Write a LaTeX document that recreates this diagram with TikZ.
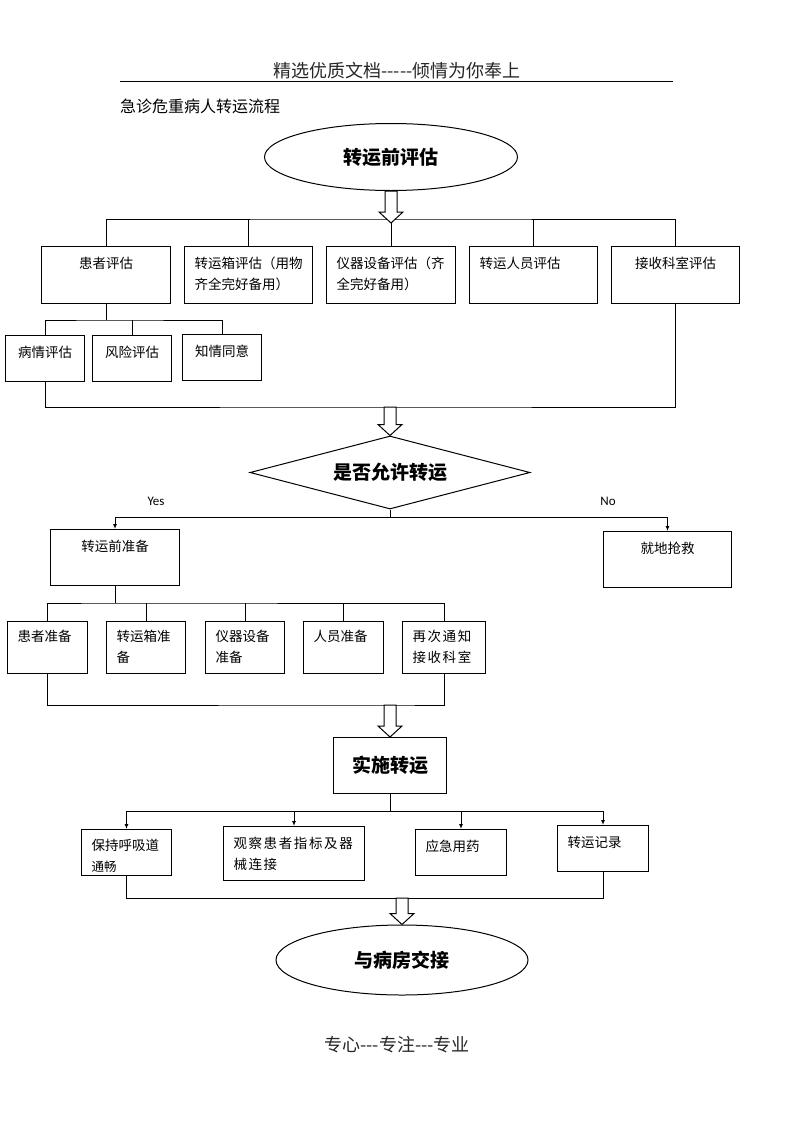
\documentclass[tikz,border=0pt]{standalone}
\usepackage{fontspec}
\newfontfamily\cjk{Noto Sans CJK SC}
\newfontfamily\cjkwide[LetterSpace=12]{Noto Sans CJK SC}
\newfontfamily\yesno{Carlito}
\usetikzlibrary{shapes}
\usetikzlibrary{positioning}
\usetikzlibrary{arrows.meta}
\usetikzlibrary{calc}
\tikzset{
    mybox/.style  = {rectangle, line width=1pt, draw=black, anchor=north west, inner xsep=10pt, inner ysep=0pt, text height=22pt, align=left, font=\cjk\fontsize{13.5}{21}\selectfont, text=black},
    myboxc/.style = {mybox, align=center},
    myboxb/.style = {rectangle, line width=1pt, draw=black, anchor=north west, inner sep=0pt, align=center, font=\cjk\bfseries\fontsize{19}{22}\selectfont, text=black},
    myell/.style  = {ellipse, line width=1pt, draw=black, inner sep=0pt, font=\cjk\bfseries\fontsize{19}{22}\selectfont, text=black},
    mydia/.style  = {diamond, aspect=3.8, line width=1pt, draw=black, inner sep=0pt, font=\cjk\bfseries\fontsize{19}{22}\selectfont, text=black},
    mytext/.style = {inner sep=0pt, font=\cjk\fontsize{16}{18}\selectfont, text=black},
    mylab/.style  = {inner sep=0pt, font=\yesno\fontsize{13}{14}\selectfont, text=black},
    edgen/.style  = {-, line width=1pt, black},
    edgea/.style  = {-{Latex[length=5pt,width=4pt]}, line width=1pt, black},
    hollow/.style = {line width=1pt, draw=black, fill=white, line join=miter}
}
\newcommand{\hollowarrow}[2]{% from #1 down to the tip at #2
    \draw[hollow] let \p1=(#1), \p2=(#2) in
        (\x2-6pt,\y1) -- (\x2+6pt,\y1) -- (\x2+6pt,\y2+11pt) -- (\x2+12pt,\y2+11pt)
        -- (\x2,\y2) -- (\x2-12pt,\y2+11pt) -- (\x2-6pt,\y2+11pt) -- cycle;
}

\begin{document}
\begin{tikzpicture}[x=1pt,y=-1pt]
\useasboundingbox (0,0) rectangle (793,1122);

% header and title
\node[mytext, anchor=base, font=\cjk\fontsize{18}{20}\selectfont, text=black!85] at (397,77) (head) {精选优质文档-----倾情为你奉上};
\draw[line width=1pt] (120,81) -- (673,81);
\node[mytext, anchor=base west] at (120,112) (title) {急诊危重病人转运流程};

\node[myell, minimum width=253pt, minimum height=67pt] at (391,157) (eval) {转运前评估};

% assessment
\node[myboxc, text width=109pt, text depth=35pt] at ( 41,246) (pgA) {患者评估};
\node[mybox,  text width=108pt, text depth=35pt] at (184,246) (pgB) {转运箱评估（用物\\齐全完好备用）};
\node[mybox,  text width=109pt, text depth=35pt] at (326,246) (pgC) {仪器设备评估（齐\\全完好备用）};
\node[mybox,  text width=108pt, text depth=35pt] at (469,246) (pgD) {转运人员评估};
\node[myboxc, text width=108pt, text depth=35pt] at (611,246) (pgE) {接收科室评估};

\node[myboxc, text width=59pt, text depth=24pt] at (  5,335) (sbA) {病情评估};
\node[myboxc, text width=59pt, text depth=24pt] at ( 92,335) (sbB) {风险评估};
\node[myboxc, text width=59pt, text depth=24pt] at (182,334) (sbC) {知情同意};

\node[mydia, minimum width=280pt, minimum height=73pt] at (390,472.5) (dec) {是否允许转运};
\node[mylab, anchor=base] at (156,505) (yes) {Yes};
\node[mylab, anchor=base] at (608,505) (no) {No};

% preparation
\node[myboxc, text width=109pt, text depth=34pt] at ( 50,529) (prep) {转运前准备};
\node[myboxc, text width=108pt, text depth=34pt] at (603,531) (rescue) {就地抢救};

\node[mybox, text width=60pt, text height=20pt, text depth=32pt] at (  7,621) (ppA) {患者准备};
\node[mybox, text width=59pt, text height=20pt, text depth=32pt] at (106,621) (ppB) {转运箱准\\备};
\node[mybox, text width=59pt, text height=20pt, text depth=32pt] at (205,621) (ppC) {仪器设备\\准备};
\node[mybox, text width=60pt, text height=20pt, text depth=32pt] at (303,621) (ppD) {人员准备};
\node[mybox, text width=63pt, text height=20pt, text depth=32pt] at (402,621) (ppE) {\cjkwide 再次通知\\接收科室};

% transfer
\node[myboxb, minimum width=113pt, minimum height=56pt] at (333,737) (impl) {实施转运};

\node[mybox, text width=70pt,  text height=21pt, text depth=25pt] at ( 81,829) (exA) {保持呼吸道\\{\fontsize{12.5}{14}\selectfont 通畅}};
\node[mybox, text width=121pt, text depth=32pt] at (223,826) (exB) {\cjkwide 观察患者指标及器\\械连接};
\node[mybox, text width=71pt,  text depth=24pt] at (415,829) (exC) {应急用药};
\node[mybox, text width=71pt,  text depth=24pt] at (557,825) (exD) {转运记录};

\node[myell, minimum width=252pt, minimum height=70pt] at (402,960) (hand) {与病房交接};

\node[mytext, anchor=base, font=\cjk\fontsize{18}{20}\selectfont, text=black!85] at (397,1051) (foot) {专心---专注---专业};

% connectors
\coordinate (busA) at (391,219);
\coordinate (tipA) at (391,223);
\draw[edgen] (pgA.north) |- (busA) -| (pgE.north);
\draw[edgen] (pgB.north) -- (pgB.north |- busA);
\draw[edgen] (pgC.north) -- (pgC.north |- busA);
\draw[edgen] (pgD.north) -- (pgD.north |- busA);
\hollowarrow{eval.south}{tipA}

\coordinate (busB) at (106,320);
\draw[edgen] (pgA.south) -- (pgA.south |- busB);
\draw[edgen] (sbA.north) |- (busB) -| (sbC.north);
\draw[edgen] (sbB.north) -- (sbB.north |- busB);

\coordinate (busC) at (391,407);
\draw[edgen] (sbA.south) |- (busC) -| (pgE.south);
\hollowarrow{busC}{dec.north}

\coordinate (busD) at (390,517);
\draw[edgen] (dec.south) -- (busD);
\draw[edgea] (busD) -| (prep.north);
\draw[edgea] (busD) -| (rescue.north);

\coordinate (busE) at (114,603);
\draw[edgen] (prep.south) -- (prep.south |- busE);
\draw[edgen] (ppA.north) |- (busE) -| (ppE.north);
\draw[edgen] (ppB.north) -- (ppB.north |- busE);
\draw[edgen] (ppC.north) -- (ppC.north |- busE);
\draw[edgen] (ppD.north) -- (ppD.north |- busE);

\coordinate (busF) at (386,705);
\draw[edgen] (ppA.south) |- (busF) -| (ppE.south);
\hollowarrow{busF}{impl.north}

\coordinate (busG) at (390,811);
\draw[edgen] (impl.south) -- (impl.south |- busG);
\draw[edgea] (busG) -| (exA.north);
\draw[edgea] (busG) -| (exD.north);
\draw[edgea] (exB.north |- busG) -- (exB.north);
\draw[edgea] (exC.north |- busG) -- (exC.north);

\coordinate (busH) at (402,898);
\draw[edgen] (exA.south) |- (busH) -| (exD.south);
\hollowarrow{busH}{hand.north}

\end{tikzpicture}
\end{document}
